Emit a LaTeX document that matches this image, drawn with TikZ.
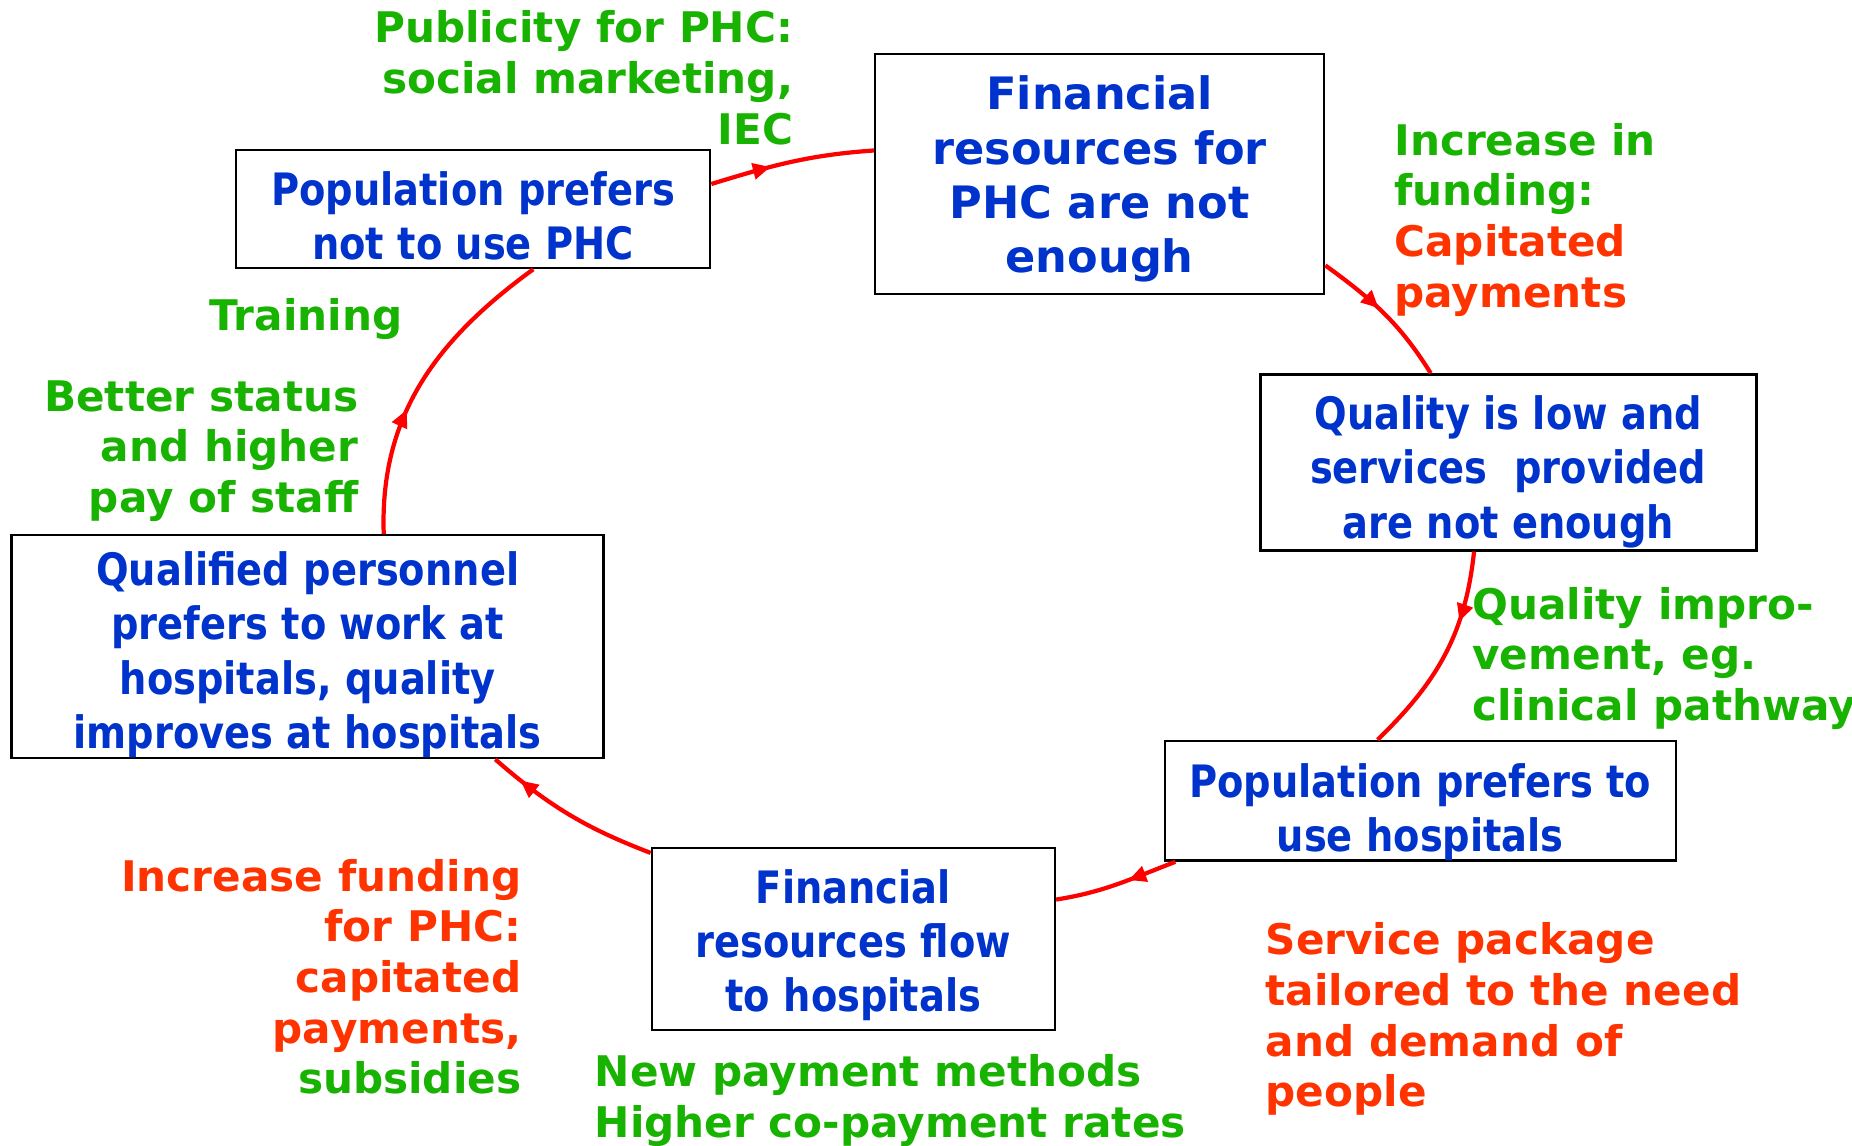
\documentclass[tikz,border=0pt]{standalone}
\usepackage{fontspec}
\setmainfont{DejaVu Sans}
\newfontfamily\narrowsans[FakeStretch=0.86]{DejaVu Sans}
\usetikzlibrary{positioning, arrows.meta, decorations.markings}
\definecolor{boxblue}{RGB}{0,51,204}
\definecolor{notegreen}{RGB}{24,178,0}
\definecolor{noteorange}{RGB}{255,51,0}
\definecolor{loopred}{RGB}{255,0,0}
\newcommand{\topgap}[1]{\rule{0pt}{#1}}
\tikzset{
    boxed/.style={draw, line width=0.7pt, text=boxblue, align=center, inner sep=0pt},
    issue/.style={boxed, font=\fontsize{12.7}{15.4}\narrowsans\bfseries},
    bigissue/.style={boxed, font=\fontsize{12.7}{15.4}\selectfont\bfseries},
    note/.style={inner sep=0pt, text=notegreen, font=\fontsize{12}{14.4}\selectfont\bfseries},
    flow/.style={loopred, line width=1.2pt, postaction={decorate},
        decoration={markings, mark=at position #1 with {\arrow{Triangle[length=5pt,width=4.5pt]}}}},
}
\begin{document}
\begin{tikzpicture}[x=0.01181cm, y=0.01181cm]
    \useasboundingbox (0,0) rectangle (1568,970);

    % problem boxes
    \node[bigissue, minimum width=4.49cm, minimum height=2.40cm] (finphc) at (931, 822.5) {\topgap{12.4pt}Financial\\resources for\\PHC are not\\enough};
    \node[issue, minimum width=4.96cm, minimum height=1.76cm] (quality) at (1277, 578.5) {\topgap{15pt}Quality is low and\\services~ provided\\are not enough};
    \node[issue, minimum width=5.11cm, minimum height=1.18cm] (pophosp) at (1202.5, 292) {\topgap{16pt}Population prefers to\\use hospitals};
    \node[issue, minimum width=4.03cm, minimum height=1.82cm] (finhosp) at (722.5, 175) {\topgap{13pt}Financial\\resources flow\\to hospitals};
    \node[issue, minimum width=5.92cm, minimum height=2.23cm] (staff) at (260.5, 422.5) {\topgap{14.2pt}Qualified personnel\\prefers to work at\\hospitals, quality\\improves at hospitals};
    \node[issue, minimum width=4.74cm, minimum height=1.18cm] (popphc) at (400.5, 793) {\topgap{13.7pt}Population prefers\\not to use PHC};

    % remedies (anchored at the baseline of the last line)
    \node[note, align=right, anchor=base east] (publicity) at (672, 848) {Publicity for PHC:\\social marketing,\\IEC};
    \node[note, align=left, anchor=base west] (funding) at (1180, 710) {Increase in\\funding:\\\textcolor{noteorange}{Capitated}\\\textcolor{noteorange}{payments}};
    \node[note, align=left, anchor=base west] (pathway) at (1246, 360) {Quality impro-\\vement, eg.\\clinical pathway};
    \node[note, align=left, anchor=base west, text=noteorange] (package) at (1071, 33) {Service package\\tailored to the need\\and demand of\\people};
    \node[note, align=left, anchor=base west] (payment) at (503, 7) {New payment methods\\Higher co-payment rates};
    \node[note, align=right, anchor=base east, text=noteorange] (phcfund) at (442, 44) {Increase funding\\for PHC:\\capitated\\payments,\\\textcolor{notegreen}{subsidies}};
    \node[note, anchor=base west] (training) at (177, 690) {Training};
    \node[note, align=right, anchor=base east] (status) at (304, 536) {Better status\\and higher\\pay of staff};

    % vicious circle
    \draw[flow=0.37] (popphc.6.8) to[out=17, in=184] (finphc.174.1);
    \draw[flow=0.45] (finphc.-22.4) to[out=-36, in=122] (quality.131.9);
    \draw[flow=0.33] (quality.-111.9) to[out=-96, in=44] (pophosp.125.4);
    \draw[flow=0.4] (pophosp.194.7) to[out=-159, in=9] (finhosp.11.9);
    \draw[flow=0.82] (finhosp.157.4) to[out=159, in=-41] (staff.-31.3);
    \draw[flow=0.4] (staff.56.9) to[out=92, in=216] (popphc.-45.3);
\end{tikzpicture}
\end{document}
